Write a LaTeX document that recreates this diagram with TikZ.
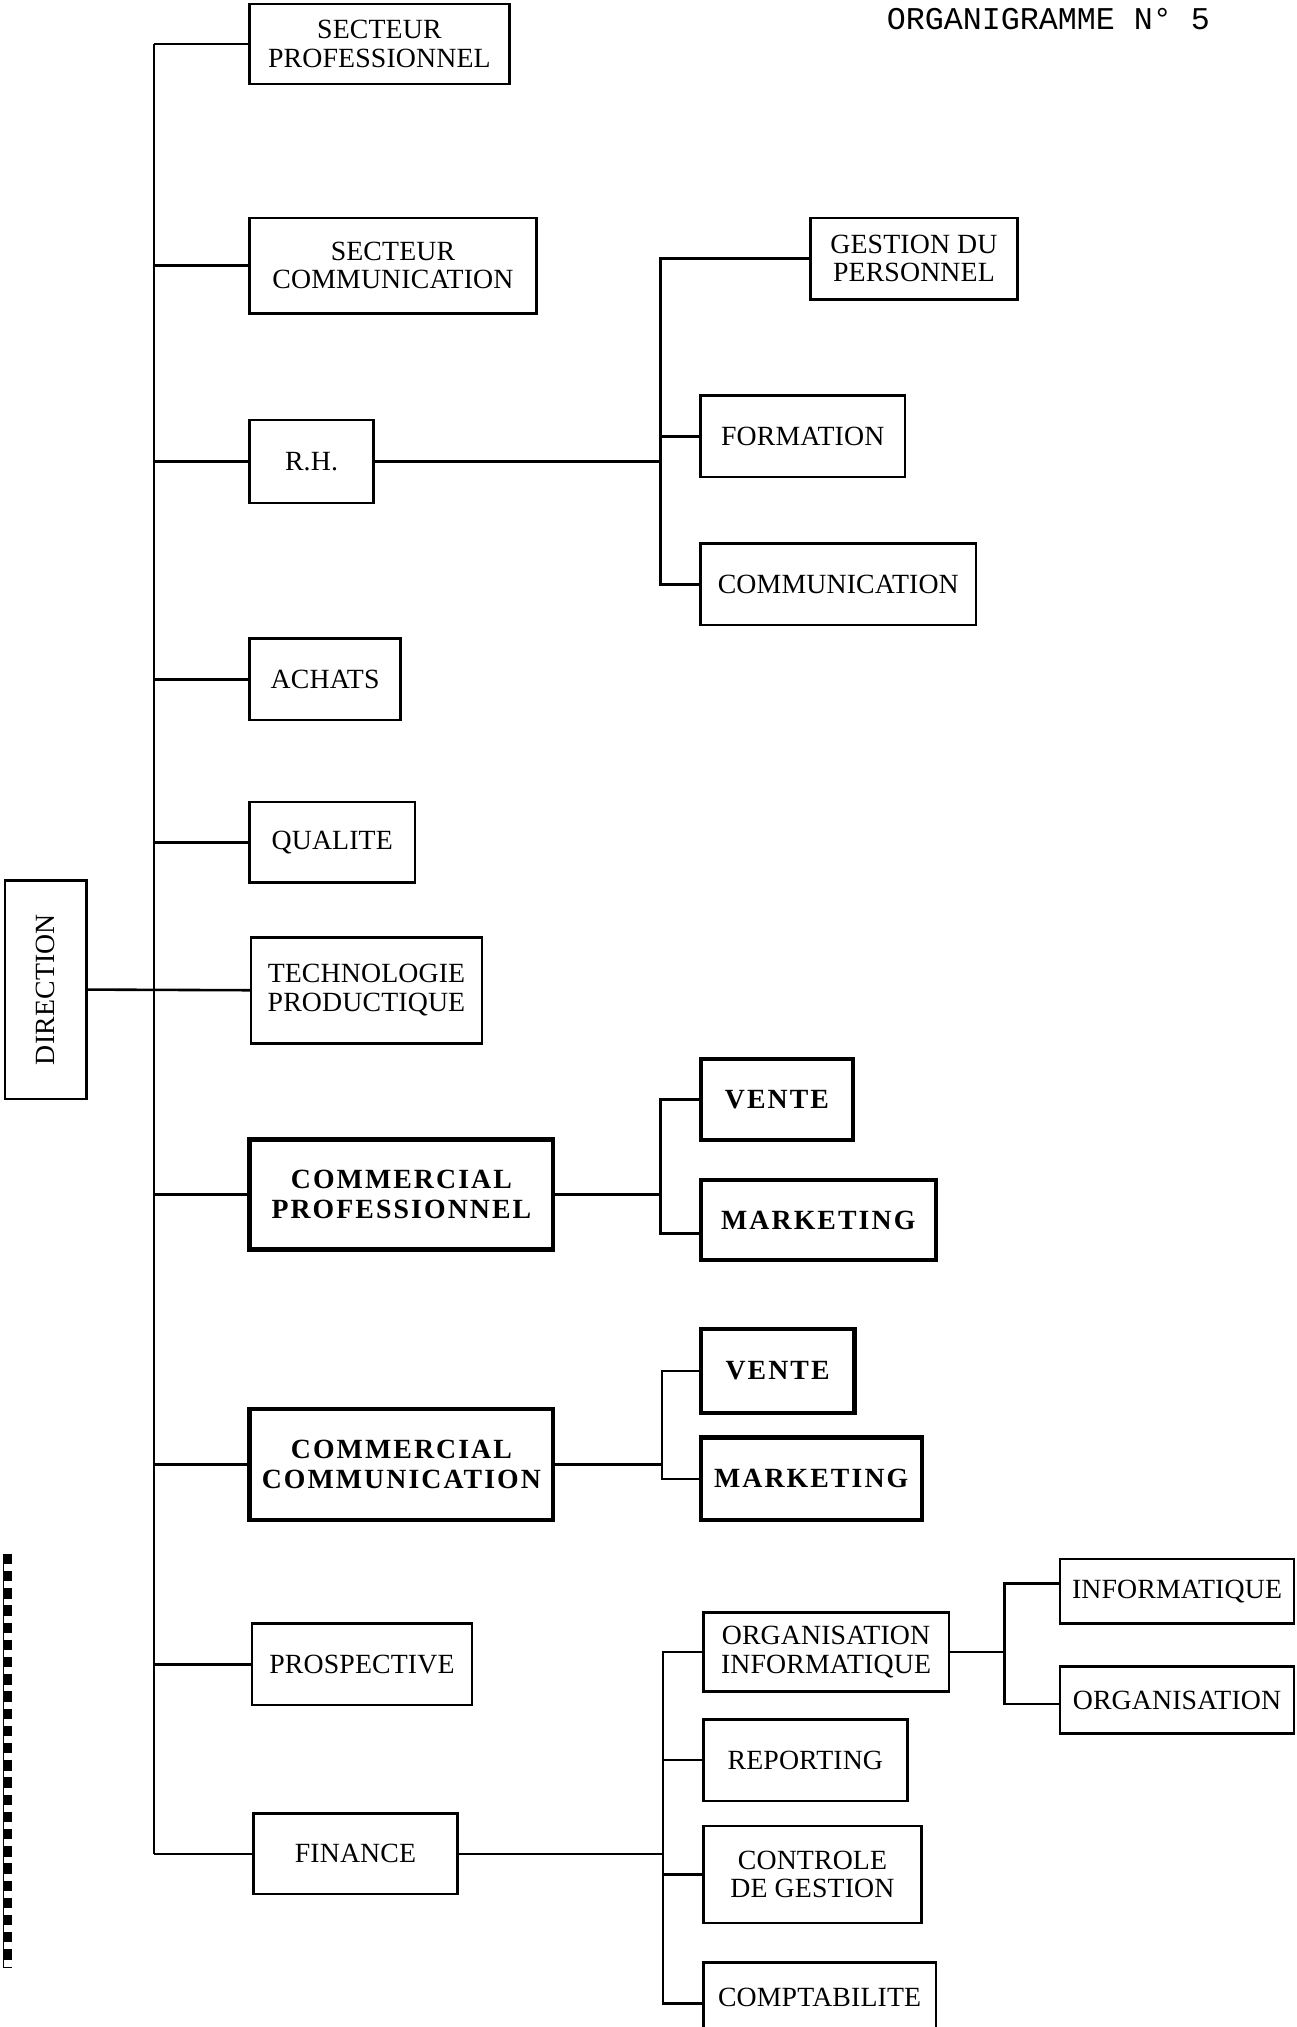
\documentclass[tikz,border=0pt]{standalone}
\usepackage{fontspec}
\newfontfamily\boxfont{Liberation Serif}[LetterSpace=0.5]
\newfontfamily\bboxfont{Liberation Serif}[LetterSpace=7.5]
\newfontfamily\titlefont{Liberation Mono}
\tikzset{
  box/.style={draw, line width=2, inner sep=0, outer sep=0, align=center,
    font=\boxfont\fontsize{21.5}{22}\selectfont},
  boldbox/.style={box, line width=3.2, font=\bboxfont\bfseries\fontsize{21.5}{23}\selectfont},
  link/.style={line width=2}
}
\begin{document}
\begin{tikzpicture}[x=1pt,y=-1pt]
\path[use as bounding box, fill=white] (0,0) rectangle (1003,1568);

\node[font=\titlefont\fontsize{24.5}{26}\selectfont] (titre) at (811,15) {ORGANIGRAMME N° 5};

% direction et premier niveau
\node[box, rotate=90, minimum width=169, minimum height=63] (dir) at (35.5,765.5) {DIRECTION};

\node[box, minimum width=201, minimum height=62] (secpro) at (293.5,34) {SECTEUR\\PROFESSIONNEL};
\node[box, minimum width=222, minimum height=74] (seccom) at (304,205.5) {SECTEUR\\COMMUNICATION};
\node[box, minimum width=96, minimum height=64] (rh) at (241,357) {R.H.};
\node[box, minimum width=117, minimum height=63] (achats) at (251.5,525.5) {ACHATS};
\node[box, minimum width=128, minimum height=62] (qual) at (257,651.5) {QUALITE};
\node[box, minimum width=179, minimum height=82] (techno) at (283.5,766) {TECHNOLOGIE\\PRODUCTIQUE};
\node[boldbox, minimum width=235, minimum height=85] (compro) at (310.5,924) {COMMERCIAL\\PROFESSIONNEL};
\node[boldbox, minimum width=235, minimum height=86] (comcom) at (310.5,1133) {COMMERCIAL\\COMMUNICATION};
\node[box, minimum width=170, minimum height=63] (prosp) at (280,1287.5) {PROSPECTIVE};
\node[box, minimum width=158, minimum height=62] (fin) at (275,1434) {FINANCE};

\coordinate (trunk) at (119,0);
\draw[link] (trunk |- secpro.west) -- (trunk |- fin.west);
\draw[link] (dir.south) -- (techno.west);
\draw[link] (trunk |- secpro.west) -- (secpro.west);
\draw[link] (trunk |- seccom.west) -- (seccom.west);
\draw[link] (trunk |- rh.west) -- (rh.west);
\draw[link] (trunk |- achats.west) -- (achats.west);
\draw[link] (trunk |- qual.west) -- (qual.west);
\draw[link] (trunk |- compro.west) -- (compro.west);
\draw[link] (trunk |- comcom.west) -- (comcom.west);
\draw[link] (trunk |- prosp.west) -- (prosp.west);
\draw[link] (trunk |- fin.west) -- (fin.west);

% R.H.
\node[box, minimum width=160, minimum height=63] (gest) at (707,200) {GESTION DU\\PERSONNEL};
\node[box, minimum width=158, minimum height=63] (form) at (621,337.5) {FORMATION};
\node[box, minimum width=213, minimum height=63] (comm) at (648.5,452) {COMMUNICATION};

\coordinate (rhbus) at (511,0);
\draw[link] (gest.west) -| (rhbus |- comm.west) -- (comm.west);
\draw[link] (rhbus |- form.west) -- (form.west);
\draw[link] (rh.east) -- (rhbus |- rh.east);

% commercial professionnel
\node[boldbox, minimum width=118, minimum height=63] (vente1) at (601,850.5) {VENTE};
\node[boldbox, minimum width=182, minimum height=62] (mark1) at (633,944) {MARKETING};

\coordinate (cpbus) at (511,0);
\draw[link] (vente1.west) -| (cpbus |- 0,954) -- ([yshift=-10pt]mark1.west);
\draw[link] (compro.east) -- (cpbus |- compro.east);

% commercial communication
\node[boldbox, minimum width=119, minimum height=65] (vente2) at (601.5,1060.5) {VENTE};
\node[boldbox, minimum width=171, minimum height=64] (mark2) at (627.5,1144) {MARKETING};

\coordinate (ccbus) at (512,0);
\draw[link] (vente2.west) -| (ccbus |- mark2.west) -- (mark2.west);
\draw[link] (comcom.east) -- (ccbus |- comcom.east);

% finance
\node[box, minimum width=190, minimum height=61] (orginf) at (639,1278) {ORGANISATION\\INFORMATIQUE};
\node[box, minimum width=158, minimum height=63] (report) at (623,1361.5) {REPORTING};
\node[box, minimum width=169, minimum height=75] (ctrl) at (628.5,1450) {CONTROLE\\DE GESTION};
\node[box, minimum width=180, minimum height=54] (compta) at (634,1545) {COMPTABILITE};

\coordinate (fbus) at (513,0);
\draw[link] (orginf.west) -| (fbus |- 0,1550) -- ([yshift=-5pt]compta.west);
\draw[link] (fbus |- report.west) -- (report.west);
\draw[link] (fbus |- ctrl.west) -- (ctrl.west);
\draw[link] (fin.east) -- (fbus |- fin.east);

% organisation informatique
\node[box, minimum width=181, minimum height=50] (info) at (910.5,1231) {INFORMATIQUE};
\node[box, minimum width=181, minimum height=52] (orga) at (910.5,1315) {ORGANISATION};

\coordinate (oibus) at (777,0);
\draw[link] ([yshift=6pt]info.west) -| (oibus |- 0,1318) -- ([yshift=-3pt]orga.west);
\draw[link] (orginf.east) -- (oibus |- orginf.east);

% reliure
\draw[line width=1] (2.5,1202) -- (2.5,1522);
\draw[line width=6, dash pattern=on 8 off 5.3] (6,1202) -- (6,1522);
\end{tikzpicture}
\end{document}
